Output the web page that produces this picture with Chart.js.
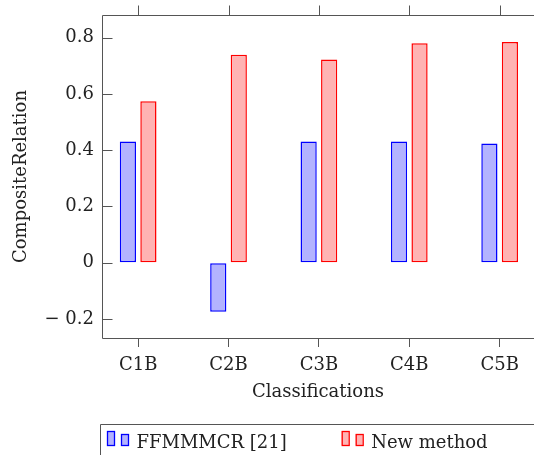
<!DOCTYPE html>
<html>
<head>
<meta charset="utf-8">
<script src="https://cdn.jsdelivr.net/npm/chart.js@4"></script>
<style>
html,body{margin:0;padding:0;overflow:hidden;background:#fff;}
</style>
</head>
<body>
<canvas id="mychart" width="534" height="455"></canvas>
<script>
const categories=['C1B','C2B','C3B','C4B','C5B'];
const oldMethod=[0.431,-0.174,0.431,0.431,0.424];
const newMethod=[0.574,0.739,0.722,0.780,0.784];
const yTicks=[-0.2,0,0.2,0.4,0.6,0.8];
const yTickLabels=['− 0.2','0','0.2','0.4','0.6','0.8'];
const seriesNames=['FFMMMCR [21]','New method'];

const INK='#222';
const FRAME='#555';
Chart.defaults.font.family="'DejaVu Serif', serif";
Chart.defaults.font.size=18;
Chart.defaults.color=INK;

// open box round the plot (right side runs off the picture),
// inward y ticks and outward ticks on top
const frame={
  id:'frame',
  afterDatasetsDraw(chart){
    const {ctx,chartArea:a,scales}=chart;
    const l=Math.round(a.left)+0.5, t=Math.round(a.top)+0.5, b=Math.round(a.bottom)+0.5;
    ctx.save();
    ctx.strokeStyle=FRAME;
    ctx.lineWidth=1;
    ctx.beginPath();
    ctx.moveTo(chart.width,t);ctx.lineTo(l,t);ctx.lineTo(l,b);ctx.lineTo(chart.width,b);
    scales.y.ticks.forEach(tk=>{
      const y=Math.round(scales.y.getPixelForValue(tk.value))+0.5;
      ctx.moveTo(l,y);ctx.lineTo(l+10,y);
    });
    scales.x.ticks.forEach(tk=>{
      const x=Math.round(scales.x.getPixelForValue(tk.value))+0.5;
      ctx.moveTo(x,t);ctx.lineTo(x,t-10);
    });
    ctx.stroke();
    ctx.restore();
  }
};

// pgfplots style legend: two little bars per entry, framed box
const legendBox={
  id:'legendBox',
  afterDraw(chart){
    const {ctx,chartArea:a}=chart;
    const top=Math.round(a.bottom)+86, left=Math.round(a.left)-2;
    ctx.save();
    ctx.strokeStyle=FRAME;
    ctx.lineWidth=1;
    ctx.beginPath();
    ctx.moveTo(chart.width,top+0.5);ctx.lineTo(left+0.5,top+0.5);ctx.lineTo(left+0.5,chart.height);
    ctx.stroke();
    ctx.font="18px 'DejaVu Serif', serif";
    ctx.textBaseline='alphabetic';
    chart.data.datasets.forEach((ds,i)=>{
      const x=left+7+i*234.7;
      ctx.fillStyle=ds.backgroundColor;
      ctx.strokeStyle=ds.borderColor;
      ctx.lineWidth=1.3;
      ctx.fillRect(x,top+7,7,14);
      ctx.strokeRect(x+0.5,top+7.5,7,14);
      ctx.fillRect(x+14,top+10,7,11);
      ctx.strokeRect(x+14.5,top+10.5,7,11);
      ctx.fillStyle=INK;
      ctx.fillText(ds.label,x+29.5,top+23.5);
    });
    ctx.restore();
  }
};

new Chart(document.getElementById('mychart'),{
  type:'bar',
  data:{
    datasets:[
      {
        label:seriesNames[0],
        data:oldMethod.map((v,i)=>({x:i+1,y:v})),
        backgroundColor:'#b3b3ff',
        borderColor:'#0000ff',
        borderWidth:1.5,
        borderSkipped:false
      },
      {
        label:seriesNames[1],
        data:newMethod.map((v,i)=>({x:i+1,y:v})),
        backgroundColor:'#ffb3b3',
        borderColor:'#ff0000',
        borderWidth:1.5,
        borderSkipped:false
      }
    ]
  },
  options:{
    responsive:false,
    animation:false,
    categoryPercentage:0.454,
    barPercentage:0.79,
    layout:{padding:{top:15,right:0,left:0,bottom:0}},
    plugins:{
      legend:{display:false},
      tooltip:{enabled:false}
    },
    scales:{
      x:{
        type:'linear',
        min:0.6,
        max:5.38,
        offset:false,
        afterBuildTicks:s=>{s.ticks=categories.map((c,i)=>({value:i+1}));},
        afterFit:s=>{s.height=117;s.paddingLeft=0;s.paddingRight=0;},
        ticks:{padding:8,callback:v=>categories[v-1],maxRotation:0,autoSkip:false},
        grid:{offset:false,drawOnChartArea:false,drawTicks:true,tickLength:9,color:FRAME},
        border:{display:false},
        title:{display:true,text:'Classifications',padding:{top:0,bottom:51.5}}
      },
      y:{
        min:-0.267,
        max:0.88,
        afterBuildTicks:s=>{s.ticks=yTicks.map(v=>({value:v}));},
        afterFit:s=>{s.width=102;s.paddingTop=0;s.paddingBottom=0;},
        ticks:{padding:8,callback:v=>yTickLabels[yTicks.indexOf(v)]},
        grid:{drawOnChartArea:false,drawTicks:false},
        border:{display:false},
        title:{display:true,text:'CompositeRelation',padding:{top:11,bottom:0}}
      }
    }
  },
  plugins:[frame,legendBox]
});
</script>
</body>
</html>
